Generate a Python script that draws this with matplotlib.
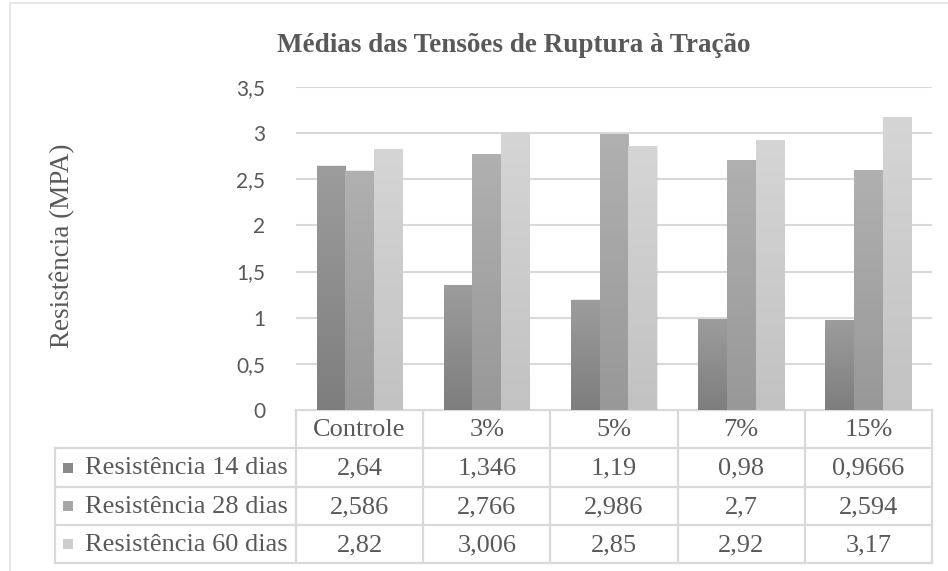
import numpy as np
import matplotlib
matplotlib.use("Agg")
import matplotlib.pyplot as plt
from matplotlib.patches import Rectangle
from matplotlib.lines import Line2D
from matplotlib.ticker import FuncFormatter, MultipleLocator

# data
categories = ["Controle", "3%", "5%", "7%", "15%"]
series_names = ["Resistência 14 dias", "Resistência 28 dias", "Resistência 60 dias"]
r14 = [2.64, 1.346, 1.19, 0.98, 0.9666]
r28 = [2.586, 2.766, 2.986, 2.7, 2.594]
r60 = [2.82, 3.006, 2.85, 2.92, 3.17]
series = [r14, r28, r60]

# styles
key_colors = ["#8a8a8a", "#a6a6a6", "#cdcdcd"]
grad_top = ["#9c9c9c", "#b0b0b0", "#d5d5d5"]
grad_bottom = ["#7e7e7e", "#989898", "#c2c2c2"]
text_col = "#595959"
line_col = "#d9d9d9"
serif = "Liberation Serif"

W, H = 948, 571
fig = plt.figure(figsize=(W / 100, H / 100), dpi=100)

# plot area in pixels
px_l, px_r, px_t, px_b = 296, 932, 87, 410
ax = fig.add_axes([px_l / W, 1 - px_b / H, (px_r - px_l) / W, (px_b - px_t) / H])

bw = 0.225
x = np.arange(len(categories))


def hex2rgb(h):
    return np.array([int(h[i:i + 2], 16) / 255 for i in (1, 3, 5)])


for k, vals in enumerate(series):
    xs = x + (k - 1) * bw
    bars = ax.bar(xs, vals, width=bw, color=key_colors[k], zorder=2)
    top, bot = hex2rgb(grad_top[k]), hex2rgb(grad_bottom[k])
    t = np.linspace(0, 1, 64)[:, None]
    grad = (top[None, :] * (1 - t) + bot[None, :] * t)[:, None, :]
    for b in bars:
        x0 = b.get_x()
        # soft shadow on the right side
        ax.add_patch(Rectangle((x0 + 0.006, 0), b.get_width(), b.get_height() + 0.01,
                               facecolor="#000000", alpha=0.08, edgecolor="none", zorder=1))
        ax.imshow(grad, extent=[x0, x0 + b.get_width(), 0, b.get_height()],
                  aspect="auto", zorder=3, interpolation="bilinear")

ax.set_xlim(-0.5, len(categories) - 0.5)
ax.set_ylim(0, 3.5)
ax.yaxis.set_major_locator(MultipleLocator(0.5))
ax.yaxis.set_major_formatter(FuncFormatter(lambda v, p: f"{v:g}".replace(".", ",")))
ax.set_xticks([])
ax.tick_params(axis="y", length=0, pad=22, labelsize=15, labelcolor=text_col)
for lab in ax.get_yticklabels():
    lab.set_fontfamily("Lato")
ax.grid(axis="y", color=line_col, linewidth=1.5, zorder=0)
ax.set_axisbelow(True)
for s in ax.spines.values():
    s.set_visible(False)

# overlay in pixel coordinates for frame, title, label and data table
ov = fig.add_axes([0, 0, 1, 1], zorder=-1)
ov.set_xlim(0, W)
ov.set_ylim(H, 0)
ov.axis("off")
ov.add_patch(Rectangle((10, 3), W, H, fill=False, edgecolor="#e3e3e3", linewidth=1.2))

fig.text(514 / W, 1 - 45 / H, "Médias das Tensões de Ruptura à Tração",
         ha="center", va="center", fontsize=19.5, fontweight="bold",
         family=serif, color=text_col)
fig.text(62 / W, 1 - 246 / H, "Resistência (MPA)", rotation=90,
         ha="center", va="center", fontsize=19.5, family=serif, color=text_col)

# table
col_w = (px_r - px_l) / len(categories)
row_y = [410, 448, 487, 525, 563]
lab_l = 55
lw = 1.6
ov.add_line(Line2D([px_l, px_r], [row_y[0]] * 2, color=line_col, lw=lw))
for y in row_y[1:]:
    ov.add_line(Line2D([lab_l, px_r], [y, y], color=line_col, lw=lw))
ov.add_line(Line2D([lab_l, lab_l], [row_y[1], row_y[-1]], color=line_col, lw=lw))
for j in range(len(categories) + 1):
    xv = px_l + j * col_w
    ov.add_line(Line2D([xv, xv], [row_y[0], row_y[-1]], color=line_col, lw=lw))

tfs = 19
for j, c in enumerate(categories):
    ov.text(px_l + (j + 0.5) * col_w, (row_y[0] + row_y[1]) / 2 + 1, c,
            ha="center", va="center", fontsize=tfs, family=serif, color=text_col)
for i, (name, vals) in enumerate(zip(series_names, series)):
    yc = (row_y[i + 1] + row_y[i + 2]) / 2 + 1
    ov.add_patch(Rectangle((63, yc - 6), 10, 10, facecolor=key_colors[i], edgecolor="none"))
    ov.text(85, yc, name, ha="left", va="center", fontsize=tfs, family=serif, color=text_col)
    for j, v in enumerate(vals):
        ov.text(px_l + (j + 0.5) * col_w, yc, f"{v:g}".replace(".", ","),
                ha="center", va="center", fontsize=tfs, family=serif, color=text_col)

fig.savefig("out.png", dpi=100, facecolor="white")
